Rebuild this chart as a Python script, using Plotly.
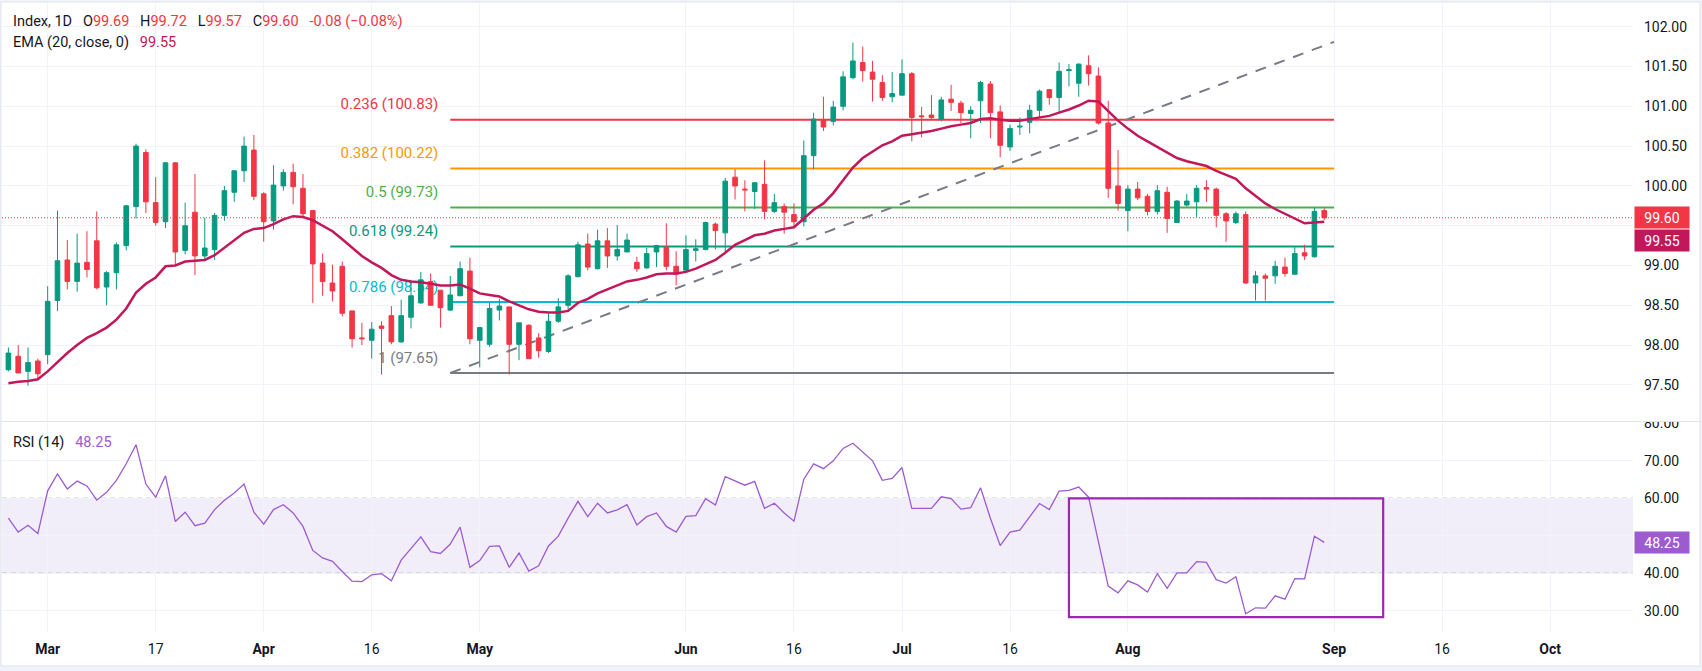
import plotly.graph_objects as go
import pandas as pd

# ---------------- data ----------------
dates = list(pd.bdate_range("2020-02-25", "2020-08-31").strftime("%Y-%m-%d"))

opens = [97.69, 97.86, 97.67, 97.80, 97.88, 98.56, 99.07, 98.80, 99.04, 99.31,
         98.73, 98.91, 99.25, 99.74, 100.42, 99.79, 99.55, 100.29, 99.19, 99.67,
         99.12, 99.20, 99.63, 99.92, 100.19, 100.45, 99.90, 99.56, 100.00, 100.17,
         99.97, 99.69, 99.03, 98.78, 98.99, 98.43, 98.09, 98.06, 98.24, 98.37,
         98.04, 98.35, 98.53, 98.80, 98.69, 98.44, 98.62, 98.93, 98.06, 98.01,
         98.44, 98.48, 98.01, 98.25, 98.09, 97.92, 98.30, 98.50, 98.86, 99.27,
         98.96, 99.31, 99.12, 99.17, 99.04, 98.97, 99.17, 99.23, 98.99, 98.94,
         99.19, 99.20, 99.52, 99.41, 100.11, 99.96, 99.93, 100.02, 99.68, 99.74,
         99.64, 99.55, 100.38, 100.83, 100.81, 101.00, 101.36, 101.55, 101.43, 101.30,
         101.12, 101.14, 101.41, 100.88, 100.89, 100.84, 101.09, 101.04, 100.91, 101.07,
         101.28, 100.93, 100.49, 100.74, 100.80, 100.95, 101.21, 101.11, 101.45, 101.29,
         101.51, 101.38, 100.79, 100.00, 99.69, 99.96, 99.87, 99.68, 99.92, 99.54,
         99.76, 99.80, 99.98, 99.96, 99.65, 99.54, 99.64, 98.78, 98.87, 98.87,
         98.98, 98.89, 99.16, 99.11, 99.69]
highs = [97.97, 98.00, 97.97, 97.83, 98.74, 99.69, 99.32, 99.40, 99.43, 99.68,
         98.93, 99.29, 99.76, 100.53, 100.46, 100.11, 100.30, 100.30, 99.79, 100.15,
         99.60, 99.66, 100.00, 100.20, 100.62, 100.64, 99.92, 100.26, 100.21, 100.28,
         100.15, 99.69, 99.15, 99.01, 99.05, 98.43, 98.28, 98.29, 98.30, 98.49,
         98.57, 98.82, 98.92, 98.90, 98.69, 98.87, 99.05, 99.10, 98.23, 98.53,
         98.58, 98.48, 98.28, 98.26, 98.15, 98.40, 98.59, 98.89, 99.30, 99.40,
         99.45, 99.47, 99.51, 99.40, 99.11, 99.22, 99.26, 99.53, 99.18, 99.38,
         99.33, 99.55, 99.54, 100.10, 100.21, 100.07, 100.05, 100.32, 99.90, 99.78,
         99.78, 100.57, 100.92, 101.12, 101.07, 101.44, 101.80, 101.75, 101.57, 101.39,
         101.43, 101.59, 101.43, 100.99, 101.14, 101.12, 101.27, 101.07, 101.00, 101.32,
         101.32, 101.01, 100.77, 100.86, 101.02, 101.21, 101.21, 101.55, 101.53, 101.54,
         101.64, 101.49, 101.07, 100.45, 100.01, 100.05, 99.90, 100.01, 99.99, 99.82,
         99.90, 100.01, 100.07, 99.98, 99.67, 99.68, 99.68, 98.93, 98.90, 99.06,
         99.10, 99.23, 99.26, 99.73, 99.72]
lows = [97.67, 97.65, 97.49, 97.58, 97.76, 98.43, 98.70, 98.67, 98.85, 98.70,
        98.50, 98.70, 99.19, 99.59, 99.66, 99.50, 99.47, 99.00, 99.14, 98.88,
        99.07, 99.07, 99.56, 99.80, 100.05, 99.82, 99.30, 99.45, 99.94, 99.77,
        99.61, 98.53, 98.62, 98.55, 98.36, 97.97, 98.00, 97.83, 97.63, 98.01,
        98.03, 98.21, 98.52, 98.50, 98.22, 98.43, 98.62, 98.01, 97.72, 97.98,
        98.31, 97.63, 97.81, 97.83, 97.84, 97.90, 98.28, 98.43, 98.85, 98.94,
        98.95, 98.97, 99.06, 99.17, 98.92, 98.96, 98.98, 98.94, 98.75, 98.93,
        99.05, 99.19, 99.20, 99.15, 99.83, 99.68, 99.71, 99.58, 99.66, 99.40,
        99.49, 99.49, 100.21, 100.69, 100.76, 100.95, 101.34, 101.31, 101.06, 101.07,
        101.05, 101.14, 100.56, 100.61, 100.84, 100.81, 100.94, 100.79, 100.60, 100.79,
        100.60, 100.36, 100.44, 100.64, 100.66, 100.86, 101.02, 100.93, 101.25, 101.12,
        101.26, 100.77, 99.85, 99.69, 99.43, 99.82, 99.63, 99.64, 99.41, 99.54,
        99.74, 99.61, 99.80, 99.48, 99.30, 99.52, 98.77, 98.56, 98.56, 98.77,
        98.86, 98.89, 99.07, 99.10, 99.57]
closes = [97.90, 97.65, 97.78, 97.64, 98.55, 99.06, 98.80, 99.03, 98.95, 98.72,
          98.91, 99.26, 99.75, 100.50, 99.80, 99.54, 100.29, 99.17, 99.50, 99.12,
          99.22, 99.63, 99.94, 100.19, 100.50, 99.87, 99.55, 100.01, 100.17, 99.99,
          99.65, 99.02, 98.80, 98.68, 98.40, 98.08, 98.08, 98.20, 98.21, 98.04,
          98.37, 98.62, 98.82, 98.50, 98.47, 98.63, 98.96, 98.08, 98.22, 98.46,
          98.49, 98.01, 98.28, 97.83, 97.93, 98.30, 98.48, 98.87, 99.26, 98.98,
          99.31, 99.12, 99.20, 99.32, 98.96, 99.15, 99.25, 98.99, 98.89, 99.20,
          99.21, 99.54, 99.44, 100.06, 100.00, 99.95, 100.04, 99.68, 99.79, 99.67,
          99.55, 100.38, 100.84, 100.74, 100.99, 101.37, 101.57, 101.45, 101.34, 101.11,
          101.16, 101.41, 100.86, 100.87, 100.86, 101.08, 101.05, 100.92, 100.95, 101.30,
          100.92, 100.51, 100.72, 100.75, 100.95, 101.19, 101.11, 101.44, 101.46, 101.53,
          101.41, 100.79, 99.97, 99.78, 99.96, 99.85, 99.68, 99.94, 99.59, 99.81,
          99.81, 99.97, 99.96, 99.63, 99.56, 99.65, 98.78, 98.87, 98.84, 98.99,
          98.90, 99.15, 99.12, 99.68, 99.60]
ema20 = [97.52, 97.54, 97.55, 97.57, 97.67, 97.79, 97.90, 98.00, 98.09, 98.15,
         98.22, 98.32, 98.46, 98.66, 98.77, 98.85, 98.99, 99.00, 99.05, 99.06,
         99.07, 99.13, 99.22, 99.31, 99.41, 99.46, 99.47, 99.52, 99.58, 99.62,
         99.61, 99.57, 99.50, 99.43, 99.33, 99.22, 99.12, 99.04, 98.97, 98.88,
         98.82, 98.80, 98.79, 98.77, 98.75, 98.75, 98.76, 98.71, 98.65, 98.63,
         98.61, 98.55, 98.50, 98.45, 98.42, 98.41, 98.41, 98.43, 98.53, 98.58,
         98.65, 98.70, 98.74, 98.80, 98.82, 98.85, 98.89, 98.90, 98.90, 98.92,
         98.96, 99.01, 99.07, 99.16, 99.26, 99.32, 99.38, 99.40, 99.44, 99.46,
         99.48, 99.59, 99.70, 99.78, 99.91, 100.07, 100.23, 100.35, 100.43, 100.51,
         100.56, 100.63, 100.65, 100.67, 100.69, 100.72, 100.75, 100.77, 100.79, 100.84,
         100.85, 100.83, 100.82, 100.82, 100.84, 100.86, 100.88, 100.92, 100.96, 101.01,
         101.07, 101.06, 100.94, 100.82, 100.72, 100.63, 100.56, 100.49, 100.41, 100.35,
         100.31, 100.28, 100.25, 100.19, 100.14, 100.09, 99.97, 99.87, 99.78, 99.71,
         99.65, 99.59, 99.53, 99.54, 99.55]
rsi14 = [54.7, 51.0, 52.8, 50.6, 62.0, 66.5, 62.5, 64.6, 63.3, 59.5,
         61.6, 64.8, 69.2, 74.3, 63.8, 60.3, 66.0, 53.8, 56.3, 52.7,
         53.4, 57.0, 59.5, 61.4, 63.8, 56.3, 53.1, 57.0, 58.3, 56.1,
         52.5, 46.1, 44.1, 43.2, 40.5, 37.9, 37.8, 39.6, 39.9, 38.0,
         43.5, 46.7, 49.7, 45.8, 45.3, 47.8, 52.3, 41.6, 43.4, 47.2,
         47.3, 41.6, 45.4, 40.6, 42.0, 47.3, 49.9, 54.7, 59.2, 55.1,
         58.7, 56.1, 56.9, 58.3, 52.9, 55.1, 56.1, 52.5, 51.0, 55.2,
         55.4, 59.9, 58.2, 65.8, 64.6, 63.5, 64.5, 57.3, 58.7, 56.1,
         53.9, 65.1, 69.2, 67.9, 70.0, 73.3, 74.7, 72.3, 70.0, 64.8,
         65.3, 68.2, 57.3, 57.3, 57.3, 60.4, 59.9, 57.1, 57.5, 62.8,
         54.7, 47.4, 51.0, 51.5, 54.9, 58.6, 57.0, 61.9, 62.1, 63.0,
         60.3, 48.4, 36.6, 34.8, 38.0, 36.9, 35.0, 39.9, 36.0, 40.1,
         40.1, 43.1, 42.9, 38.3, 37.4, 39.1, 29.2, 30.8, 30.7, 34.0,
         33.1, 38.6, 38.5, 49.9, 48.25]

fib_ratios = [0.236, 0.382, 0.5, 0.618, 0.786, 1.0]
fib_prices = [100.83, 100.22, 99.73, 99.24, 98.54, 97.65]
fib_colors = ["#F23645", "#FF9800", "#4CAF50", "#089981", "#00BCD4", "#787B86"]
fib_high = 101.81
fib_low = 97.65
fib_start = "2020-04-28"
fib_end = "2020-09-01"
fib_label_x = "2020-04-27 11:00"

rsi_upper = 60
rsi_lower = 40
box_x0, box_x1 = "2020-07-24", "2020-09-08"
box_y0, box_y1 = 28.3, 60

tick_dates = ["2020-03-02", "2020-03-17", "2020-04-01", "2020-04-16", "2020-05-01",
              "2020-06-01", "2020-06-16", "2020-07-01", "2020-07-16", "2020-08-03",
              "2020-09-01", "2020-09-16", "2020-10-01"]
tick_labels = ["Mar", "17", "Apr", "16", "May", "Jun", "16", "Jul", "16", "Aug",
               "Sep", "16", "Oct"]
price_ticks = [97.5, 98.0, 98.5, 99.0, 99.5, 100.0, 100.5, 101.0, 101.5, 102.0]
price_hidden = [99.5]          # covered by the value tags in the reference
rsi_ticks = [30, 40, 50, 60, 70, 80]
rsi_hidden = [50]

# ---------------- styling / layout ----------------
UP, DOWN = "#089981", "#F23645"
EMA_C = "#C2185B"
RSI_C = "#9C5BCF"
TXT = "#131722"
GRID = "#F0F3FA"
FONT = "Roboto"

W, H = 1702, 671
ML, MR, MT, MB = 2, 69, 3, 39
PW, PH = W - ML - MR, H - MT - MB


def py(abs_y):
    return (H - MB - abs_y) / PH


def px(abs_x):
    return (abs_x - ML) / PW


x_range = ["2020-02-24 08:24", "2020-10-13 10:34"]
price_range = [97.0465, 102.298]
rsi_range = [24.35, 80.08]

fig = go.Figure()

# fib drawing (below candles)
for p, c in zip(fib_prices, fib_colors):
    fig.add_trace(go.Scatter(x=[fib_start, fib_end], y=[p, p], mode="lines",
                             line=dict(color=c, width=2), xaxis="x", yaxis="y",
                             hoverinfo="skip"))
fig.add_trace(go.Scatter(x=[fib_start, fib_end], y=[fib_low, fib_high], mode="lines",
                         line=dict(color="#787B86", width=2, dash="11px,9px"),
                         xaxis="x", yaxis="y", hoverinfo="skip"))
fig.add_trace(go.Scatter(x=[fib_label_x] * len(fib_prices), y=fib_prices, mode="markers+text",
                         marker=dict(size=9, color="rgba(0,0,0,0)"),
                         text=[f"{r:g} ({p:.2f})" for r, p in zip(fib_ratios, fib_prices)],
                         textposition="top left",
                         textfont=dict(family=FONT, size=15, color=fib_colors),
                         xaxis="x", yaxis="y", hoverinfo="skip"))

# candles
fig.add_trace(go.Candlestick(x=dates, open=opens, high=highs, low=lows, close=closes,
                             increasing=dict(line=dict(color=UP, width=1), fillcolor=UP),
                             decreasing=dict(line=dict(color=DOWN, width=1), fillcolor=DOWN),
                             whiskerwidth=0, xaxis="x", yaxis="y3", hoverinfo="skip"))
# EMA
fig.add_trace(go.Scatter(x=dates, y=ema20, mode="lines", line=dict(color=EMA_C, width=2.5),
                         xaxis="x", yaxis="y4", hoverinfo="skip"))
# RSI
fig.add_trace(go.Scatter(x=dates, y=rsi14, mode="lines", line=dict(color=RSI_C, width=1.3),
                         xaxis="x2", yaxis="y2", hoverinfo="skip"))

shapes = [
    # frame
    dict(type="rect", xref="paper", yref="paper", x0=px(1), x1=px(1700), y0=py(666), y1=py(2),
         fillcolor="white", line=dict(color="#E0E3EB", width=1), layer="below"),
    # last price line
    dict(type="line", xref="paper", yref="y", x0=0, x1=1, y0=closes[-1], y1=closes[-1],
         line=dict(color=DOWN, width=1, dash="1px,2px"), layer="above"),
    # RSI band
    dict(type="rect", xref="paper", yref="y2", x0=0, x1=1, y0=rsi_lower, y1=rsi_upper,
         fillcolor="rgba(126,87,194,0.10)", line=dict(width=0), layer="below"),
    dict(type="line", xref="paper", yref="y2", x0=0, x1=1, y0=rsi_upper, y1=rsi_upper,
         line=dict(color="#787B86", width=1, dash="5px,4px"), layer="between"),
    dict(type="line", xref="paper", yref="y2", x0=0, x1=1, y0=rsi_lower, y1=rsi_lower,
         line=dict(color="#787B86", width=1, dash="5px,4px"), layer="between"),
    # highlight box
    dict(type="rect", xref="x2", yref="y2", x0=box_x0, x1=box_x1, y0=box_y0, y1=box_y1,
         line=dict(color="#9C27B0", width=2.2), fillcolor="rgba(0,0,0,0)", layer="above"),
    # cover top half of RSI 80 label, pane separator
    dict(type="rect", xref="paper", yref="paper", x0=1.0005, x1=px(1699), y0=py(421.5), y1=py(408),
         fillcolor="white", line=dict(width=0), layer="above"),
    dict(type="line", xref="paper", yref="paper", x0=px(1), x1=px(1700), y0=py(421.5), y1=py(421.5),
         line=dict(color="#E0E3EB", width=1), layer="above"),
]

sp = "\u00a0"
red = DOWN
chg = closes[-1] - closes[-2]
pct = chg / closes[-2] * 100


def val(v, color):
    return f"<span style='color:{color}'>{v}</span>"


title_txt = (f"Index, 1D{sp*3}O" + val(f"{opens[-1]:.2f}", red) + f"{sp*3}H" + val(f"{highs[-1]:.2f}", red)
             + f"{sp*3}L" + val(f"{lows[-1]:.2f}", red) + f"{sp*3}C" + val(f"{closes[-1]:.2f}", red)
             + sp * 3 + val(f"{chg:.2f} ({pct:.2f}%)".replace("(-", "(\u2212"), red))
ema_txt = f"EMA (20, close, 0){sp*3}" + val(f"{ema20[-1]:.2f}", EMA_C)
rsi_txt = f"RSI (14){sp*3}" + val(f"{rsi14[-1]:.2f}", RSI_C)

ann_font = dict(family=FONT, size=14.5, color=TXT)
annotations = [
    dict(xref="paper", yref="paper", x=0, y=1, xanchor="left", yanchor="middle", xshift=9, yshift=-18,
         text=title_txt, showarrow=False, font=ann_font),
    dict(xref="paper", yref="paper", x=0, y=1, xanchor="left", yanchor="middle", xshift=9, yshift=-39,
         text=ema_txt, showarrow=False, font=ann_font),
    dict(xref="paper", yref="y2 domain", x=0, y=1, xanchor="left", yanchor="middle", xshift=9, yshift=-19,
         text=rsi_txt, showarrow=False, font=ann_font),
]
box_font = dict(family=FONT, size=14, color="white")
for yv, yref, ys, bg in [(closes[-1], "y", 0, DOWN), (ema20[-1], "y", -19, EMA_C), (rsi14[-1], "y2", 0, RSI_C)]:
    annotations.append(dict(xref="paper", yref=yref, x=1, y=yv, xanchor="left", yanchor="middle",
                            xshift=1, yshift=ys, text=f"{yv:.2f}", showarrow=False, font=box_font,
                            bgcolor=bg, width=54, height=21, borderpad=0, align="center"))

tick_text = [f"<b>{t}</b>" if not t.isdigit() else t for t in tick_labels]
price_text = ["" if v in price_hidden else f"{v:.2f}" for v in price_ticks]
rsi_text = ["" if v in rsi_hidden else f"{v:.2f}" for v in rsi_ticks]

xcommon = dict(type="date", range=x_range, rangebreaks=[dict(bounds=["sat", "mon"])],
               tickvals=tick_dates, ticktext=tick_text, showgrid=True, gridcolor=GRID, gridwidth=1,
               zeroline=False, showline=False, ticks="", rangeslider=dict(visible=False),
               fixedrange=True, automargin=False)
ycommon = dict(side="right", showgrid=True, gridcolor=GRID, zeroline=False, showline=False,
               ticks="", tickfont=dict(family=FONT, size=14, color=TXT),
               ticklabelstandoff=10, fixedrange=True, automargin=False)

fig.update_layout(
    width=W, height=H, margin=dict(l=ML, r=MR, t=MT, b=MB, pad=0, autoexpand=False),
    paper_bgcolor="#F0F3FA", plot_bgcolor="white", showlegend=False, hovermode=False,
    font=dict(family=FONT, size=14, color=TXT),
    xaxis=dict(**xcommon, domain=[0, 1], anchor="y", showticklabels=False),
    xaxis2=dict(**xcommon, domain=[0, 1], anchor="y2", matches="x", showticklabels=True,
                tickfont=dict(family=FONT, size=14, color=TXT), ticklabelstandoff=7),
    yaxis=dict(**ycommon, domain=[py(421), 1], anchor="x", range=price_range,
               tickvals=price_ticks, ticktext=price_text),
    yaxis3=dict(overlaying="y", anchor="x", range=price_range, visible=False, fixedrange=True),
    yaxis4=dict(overlaying="y", anchor="x", range=price_range, visible=False, fixedrange=True),
    yaxis2=dict(**ycommon, domain=[0, py(423)], anchor="x2", range=rsi_range,
                tickvals=rsi_ticks, ticktext=rsi_text),
    boxgap=0.33,
    shapes=shapes, annotations=annotations,
)

fig.write_html("out.html", config={"displayModeBar": False},
               post_script="document.body.style.margin='0';document.body.style.overflow='hidden';")
